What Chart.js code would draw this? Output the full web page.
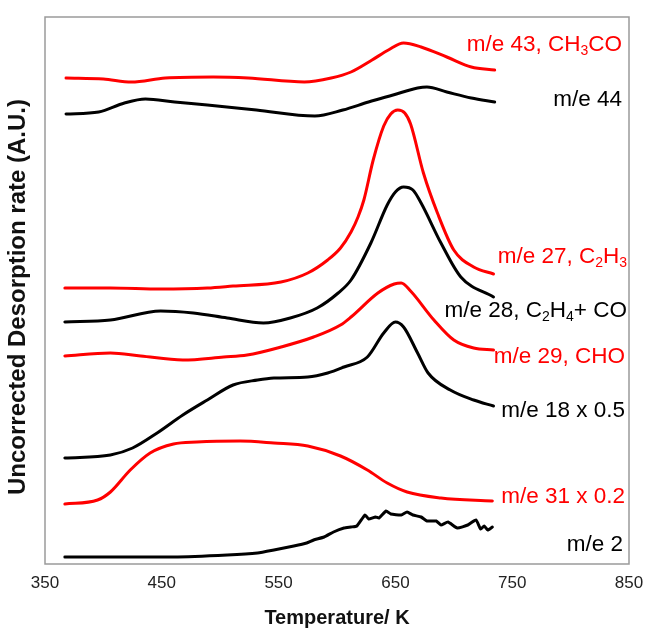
<!DOCTYPE html>
<html lang="en">
<head>
    <meta charset="UTF-8">
    <script src="https://cdn.jsdelivr.net/npm/chart.js"></script>
    <title>Uncorrected Desorption rate</title>
    <style>
        html, body {
            margin: 0;
            padding: 0;
            background: #fff;
        }
        #wrap {
            width: 646px;
            height: 628px;
        }
    </style>
</head>

<body>
    <div id="wrap"><canvas id="tpdChart" width="646" height="628"></canvas></div>

    <script>
        // temperatures (K) and stacked, offset signals (A.U.)
        const t43 = [368, 400, 424, 453, 494, 524, 572, 595, 612, 630, 644, 657, 672, 694, 715, 735];
        const y43 = [486, 485, 482, 486, 487, 486, 482, 486, 492, 504, 514, 521, 517, 507, 497, 494];

        const t44 = [368, 396, 418, 436, 461, 489, 531, 581, 605, 627, 648, 669, 677, 694, 715, 735];
        const y44 = [450, 452, 461, 465, 462, 459, 454, 448, 454, 462, 469, 476, 477, 472, 466, 462];

        const t27 = [367, 406, 449, 489, 511, 552, 575, 592, 603, 612, 618, 623, 631, 640, 646, 652, 658, 663, 674, 686, 700, 717, 734];
        const y27 = [276, 276, 275, 276, 278, 282, 291, 304, 316, 332, 347, 364, 404, 438, 450, 454, 451, 440, 391, 351, 314, 297, 290];

        const t28 = [367, 406, 449, 477, 506, 537, 560, 583, 601, 612, 629, 643, 650, 657, 665, 672, 689, 706, 734];
        const y28 = [242, 244, 253, 251, 246, 241, 246, 256, 271, 284, 321, 359, 372, 377, 374, 361, 321, 287, 267];

        const t29 = [367, 406, 432, 468, 503, 523, 552, 580, 603, 612, 635, 649, 655, 663, 683, 700, 717, 734];
        const y29 = [208, 211, 208, 204, 207, 209, 217, 227, 239, 247, 271, 280, 281, 273, 244, 224, 216, 214];

        const t18 = [367, 406, 425, 446, 468, 489, 511, 532, 546, 575, 592, 606, 626, 640, 650, 657, 669, 678, 697, 717, 734];
        const y18 = [106, 109, 116, 131, 149, 164, 179, 184, 186, 187, 191, 197, 207, 231, 242, 237, 211, 191, 174, 164, 158];

        const t31 = [367, 395, 406, 423, 440, 460, 480, 517, 546, 575, 603, 626, 643, 660, 689, 733];
        const y31 = [60, 64, 72, 94, 111, 120, 122, 123, 121, 118, 108, 94, 81, 72, 66, 63];

        const t2 = [367, 460, 506, 532, 546, 563, 574, 580, 589, 597, 606, 612, 617, 624, 627, 633, 636, 642, 646,
                    655, 660, 665, 672, 677, 685, 689, 695, 703, 712, 719, 723, 726, 729, 733];
        const y2 = [7, 7, 9, 11, 14, 18, 21, 24, 27, 32, 36, 37, 38, 49, 45, 47, 46, 53, 50,
                    49, 52, 49, 47, 43, 43, 39, 42, 36, 39, 44, 35, 38, 34, 37];

        const xTicks = [350, 450, 550, 650, 750, 850];

        // trace labels, "_" marks a subscript digit
        const traceLabels = ['m/e 43, CH_3CO', 'm/e 44', 'm/e 27, C_2H_3', 'm/e 28, C_2H_4+ CO',
                             'm/e 29, CHO', 'm/e 18 x 0.5', 'm/e 31 x 0.2', 'm/e 2'];
        const labelY = [45, 100, 257, 311, 357, 411, 497, 545];
        const labelRight = [622, 622, 627, 627, 625, 625, 625, 623];

        const RED = '#ff0000';
        const BLACK = '#000000';
        const traceColors = [RED, BLACK, RED, BLACK, RED, BLACK, RED, BLACK];

        function toPoints(ts, ys) {
            return ts.map((t, i) => ({ x: t, y: ys[i] }));
        }

        const series = [[t43, y43], [t44, y44], [t27, y27], [t28, y28],
                        [t29, y29], [t18, y18], [t31, y31], [t2, y2]];

        const FONT = '"Liberation Sans", Arial, sans-serif';

        // frame, y title and the trace labels with subscripts
        const decorPlugin = {
            id: 'decor',
            afterDraw(chart) {
                const ctx = chart.ctx;
                const a = chart.chartArea;
                ctx.save();
                ctx.strokeStyle = '#9a9a9a';
                ctx.lineWidth = 1.5;
                ctx.strokeRect(a.left, a.top, a.right - a.left, a.bottom - a.top);

                ctx.save();
                ctx.translate(18, 297);
                ctx.rotate(-Math.PI / 2);
                ctx.textAlign = 'center';
                ctx.textBaseline = 'middle';
                ctx.fillStyle = '#111';
                ctx.font = 'bold 24px ' + FONT;
                ctx.fillText('Uncorrected Desorption rate (A.U.)', 0, 0);
                ctx.restore();

                ctx.textBaseline = 'middle';
                traceLabels.forEach((txt, i) => {
                    const parts = [];
                    for (let k = 0; k < txt.length; k++) {
                        if (txt[k] === '_') {
                            parts.push({ s: txt[k + 1], sub: true });
                            k++;
                        } else {
                            parts.push({ s: txt[k], sub: false });
                        }
                    }
                    const big = '22.5px ' + FONT;
                    const small = '14px ' + FONT;
                    let w = 0;
                    parts.forEach(p => {
                        ctx.font = p.sub ? small : big;
                        p.w = ctx.measureText(p.s).width;
                        w += p.w;
                    });
                    let x = labelRight[i] - w;
                    ctx.fillStyle = traceColors[i];
                    parts.forEach(p => {
                        ctx.font = p.sub ? small : big;
                        ctx.fillText(p.s, x, labelY[i] + (p.sub ? 6 : 0));
                        x += p.w;
                    });
                });
                ctx.restore();
            }
        };

        const ctx = document.getElementById('tpdChart').getContext('2d');
        new Chart(ctx, {
            type: 'line',
            data: {
                datasets: series.map((s, i) => ({
                    label: traceLabels[i],
                    data: toPoints(s[0], s[1]),
                    borderColor: traceColors[i],
                    borderWidth: 3,
                    pointRadius: 0,
                    cubicInterpolationMode: i === 7 ? 'default' : 'monotone',
                    tension: i === 7 ? 0.15 : 0.4,
                    fill: false,
                    borderCapStyle: 'round',
                    borderJoinStyle: 'round'
                }))
            },
            options: {
                responsive: false,
                animation: false,
                events: [],
                layout: {
                    padding: { left: 0, top: 17, right: 17, bottom: 0 }
                },
                plugins: {
                    legend: { display: false },
                    tooltip: { enabled: false }
                },
                scales: {
                    x: {
                        type: 'linear',
                        min: 350,
                        max: 850,
                        afterBuildTicks: axis => {
                            axis.ticks = xTicks.map(v => ({ value: v }));
                        },
                        afterFit: axis => {
                            axis.height = 64;
                            axis.paddingLeft = 0;
                            axis.paddingRight = 0;
                        },
                        grid: { display: false, drawTicks: false },
                        border: { display: false },
                        ticks: {
                            padding: 9,
                            color: '#222',
                            font: { family: FONT, size: 17 },
                            maxRotation: 0,
                            callback: v => String(v)
                        },
                        title: {
                            display: true,
                            text: 'Temperature/ K',
                            color: '#111',
                            font: { family: FONT, size: 20, weight: 'bold' },
                            padding: { top: 0, bottom: -2 }
                        }
                    },
                    y: {
                        min: 0,
                        max: 547,
                        afterFit: axis => { axis.width = 45; },
                        grid: { display: false, drawTicks: false },
                        border: { display: false },
                        ticks: { display: false },
                        title: { display: false }
                    }
                }
            },
            plugins: [decorPlugin]
        });
    </script>
</body>

</html>
